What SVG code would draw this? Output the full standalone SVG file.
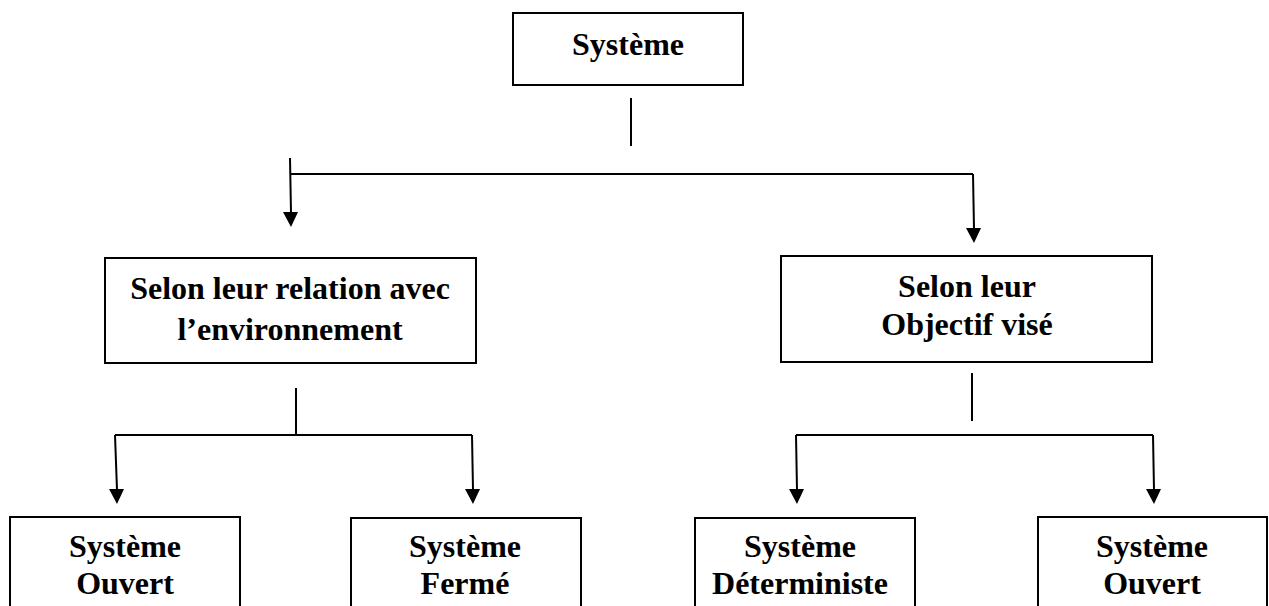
<svg xmlns="http://www.w3.org/2000/svg" width="1269" height="606" viewBox="0 0 1269 606">
<style>
.box{fill:#fff;stroke:#000;stroke-width:2}
.t{font-family:"Liberation Serif","Times New Roman",serif;font-weight:bold;font-size:32px;fill:#000;text-anchor:middle}
.c{fill:none;stroke:#000;stroke-width:2}
</style>
<defs>
<marker id="ah" markerUnits="userSpaceOnUse" markerWidth="16" markerHeight="16" viewBox="0 0 16 16" refX="8" refY="15" orient="auto-start-reverse">
<path d="M0,0 L16,0 L8,15 Z" fill="#000" transform="rotate(-90 8 8)"/>
</marker>
</defs>
<rect width="1269" height="606" fill="#fff"/>
<g id="n-systeme"><rect class="box" x="513" y="13" width="230" height="72"/><text class="t" x="628" y="55">Système</text></g>
<g id="n-relation"><rect class="box" x="105" y="258" width="371" height="105"/><text class="t" x="290" y="299">Selon leur relation avec</text><text class="t" x="290" y="340">l’environnement</text></g>
<g id="n-objectif"><rect class="box" x="781" y="256" width="371" height="106"/><text class="t" x="967" y="297">Selon leur</text><text class="t" x="967" y="335">Objectif visé</text></g>
<g id="n-ouvert1"><rect class="box" x="10" y="517" width="230" height="110"/><text class="t" x="125" y="557">Système</text><text class="t" x="125" y="594">Ouvert</text></g>
<g id="n-ferme"><rect class="box" x="351" y="518" width="230" height="110"/><text class="t" x="465" y="557">Système</text><text class="t" x="465" y="594">Fermé</text></g>
<g id="n-determ"><rect class="box" x="695" y="518" width="220" height="110"/><text class="t" x="800" y="557">Système</text><text class="t" x="800" y="594">Déterministe</text></g>
<g id="n-ouvert2"><rect class="box" x="1038" y="517" width="229" height="110"/><text class="t" x="1152" y="557">Système</text><text class="t" x="1152" y="594">Ouvert</text></g>
<g id="connectors">
<line class="c" x1="631" y1="98" x2="631" y2="146" stroke-width="1.5"/>
<line class="c" x1="290" y1="174" x2="973" y2="174"/>
<line class="c" x1="290" y1="158" x2="291" y2="213"/>
<polygon points="283,212 298,212 291,227" fill="#000"/>
<line class="c" x1="973" y1="174" x2="974" y2="229"/>
<polygon points="966,228 981,228 974,243" fill="#000"/>
<line class="c" x1="296" y1="388" x2="296" y2="435" stroke-width="1.5"/>
<line class="c" x1="115" y1="435" x2="472" y2="435"/>
<line class="c" x1="115" y1="435" x2="117" y2="490"/>
<polygon points="109,489 124,489 117,504" fill="#000"/>
<line class="c" x1="472" y1="435" x2="473" y2="490"/>
<polygon points="465,489 480,489 473,504" fill="#000"/>
<line class="c" x1="972" y1="373" x2="972" y2="421" stroke-width="1.5"/>
<line class="c" x1="796" y1="435" x2="1153" y2="435"/>
<line class="c" x1="796" y1="435" x2="797" y2="490"/>
<polygon points="789,489 804,489 797,504" fill="#000"/>
<line class="c" x1="1153" y1="435" x2="1154" y2="490"/>
<polygon points="1146,489 1161,489 1154,504" fill="#000"/>
</g>
</svg>
